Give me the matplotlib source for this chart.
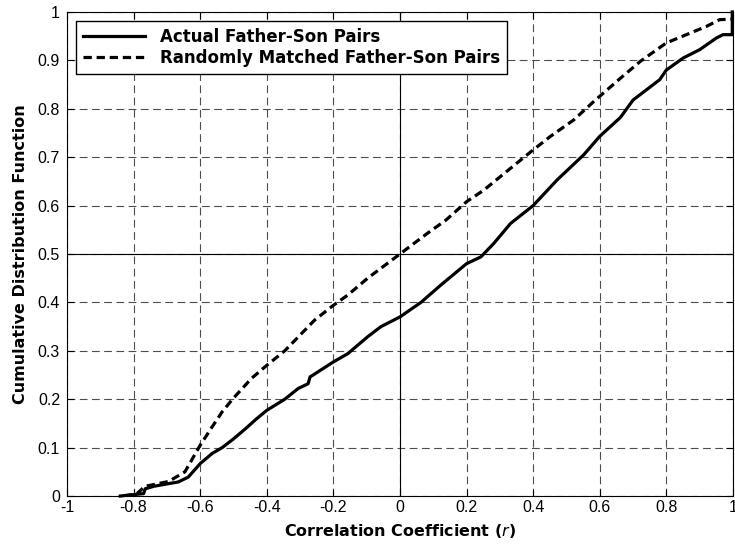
import matplotlib.pyplot as plt

actual_r = [-0.84, -0.77, -0.765, -0.74, -0.70, -0.666, -0.636, -0.60, -0.564, -0.534,
            -0.50, -0.464, -0.43, -0.40, -0.346, -0.306, -0.276, -0.27, -0.20, -0.157,
            -0.097, -0.057, 0.00, 0.063, 0.123, 0.20, 0.243, 0.282, 0.332, 0.40,
            0.472, 0.552, 0.60, 0.662, 0.70, 0.74, 0.78, 0.80, 0.851, 0.90,
            0.95, 0.97, 0.998, 0.998]
actual_cdf = [0.0, 0.005, 0.015, 0.02, 0.025, 0.029, 0.039, 0.067, 0.088, 0.10,
              0.118, 0.139, 0.16, 0.177, 0.20, 0.222, 0.232, 0.246, 0.277, 0.294,
              0.329, 0.35, 0.37, 0.40, 0.436, 0.48, 0.494, 0.522, 0.563, 0.60,
              0.653, 0.705, 0.743, 0.782, 0.818, 0.839, 0.86, 0.88, 0.905, 0.922,
              0.946, 0.953, 0.953, 1.0]

random_r = [-0.83, -0.79, -0.766, -0.73, -0.695, -0.646, -0.60, -0.564, -0.534, -0.503,
            -0.446, -0.40, -0.346, -0.257, -0.20, -0.157, -0.097, 0.00, 0.083, 0.138,
            0.20, 0.252, 0.332, 0.40, 0.452, 0.522, 0.582, 0.662, 0.722, 0.80,
            0.86, 0.92, 0.96, 0.996]
random_cdf = [0.0, 0.005, 0.02, 0.025, 0.03, 0.05, 0.105, 0.143, 0.174, 0.20,
              0.243, 0.27, 0.30, 0.363, 0.394, 0.415, 0.45, 0.50, 0.543, 0.57,
              0.608, 0.632, 0.677, 0.715, 0.743, 0.777, 0.815, 0.863, 0.898, 0.936,
              0.953, 0.97, 0.984, 0.985]

xticks = [-1, -0.8, -0.6, -0.4, -0.2, 0, 0.2, 0.4, 0.6, 0.8, 1]
yticks = [0, 0.1, 0.2, 0.3, 0.4, 0.5, 0.6, 0.7, 0.8, 0.9, 1]

fig = plt.figure(figsize=(7.35, 5.47), dpi=100)
ax = fig.add_axes([0.0912, 0.0932, 0.906, 0.885])

ax.grid(True, linestyle=(0, (7, 4)), color='0.3', linewidth=0.8)
ax.axhline(0.5, color='k', linewidth=0.8)
ax.axvline(0, color='k', linewidth=0.8)

ax.plot(actual_r, actual_cdf, 'k-', linewidth=2.3, clip_on=False,
        label="Actual Father-Son Pairs")
ax.plot(random_r, random_cdf, 'k--', linewidth=2.3, dashes=(2.6, 1.5),
        label="Randomly Matched Father-Son Pairs")

ax.set_xlim(-1, 1)
ax.set_ylim(0, 1)
ax.set_xticks(xticks)
ax.set_yticks(yticks)
ax.set_xticklabels(["%g" % v for v in xticks])
ax.set_yticklabels(["%g" % v for v in yticks])
ax.tick_params(direction='in', top=True, right=True, length=5, labelsize=11.5)
ax.tick_params(axis='x', pad=3)
ax.tick_params(axis='y', pad=5)
for t in ax.get_xticklabels() + ax.get_yticklabels():
    t.set_family('Liberation Sans')
for s in ax.spines.values():
    s.set_linewidth(0.8)

ax.set_xlabel("Correlation Coefficient ($\\it{r}$)", fontsize=11.5, weight='bold',
              family='DejaVu Sans', labelpad=5)
ax.set_ylabel("Cumulative Distribution Function", fontsize=11.5, weight='bold',
              family='DejaVu Sans', labelpad=7)

leg = ax.legend(loc='upper left', fancybox=False, edgecolor='k', framealpha=1,
                prop=dict(family='DejaVu Sans', weight='bold', size=12),
                handlelength=3.7, handletextpad=0.95, borderpad=0.4,
                labelspacing=0.2, borderaxespad=0.55)
leg.get_frame().set_linewidth(1.0)

plt.savefig("out.png")
